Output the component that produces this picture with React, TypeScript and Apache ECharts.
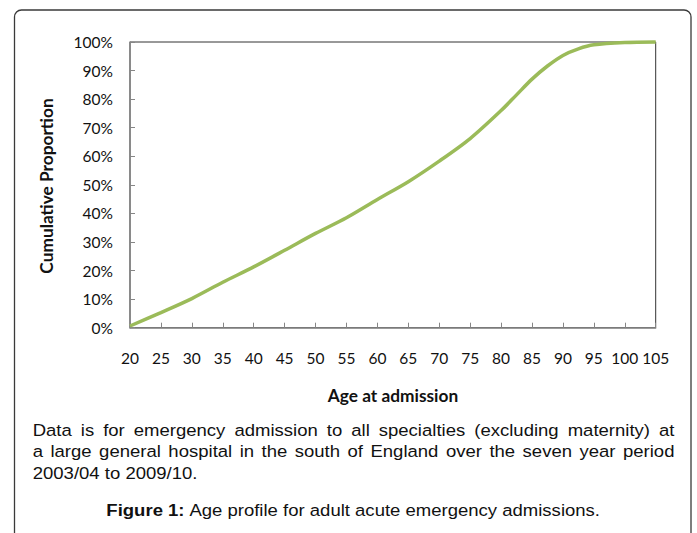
import React, { useEffect, useRef } from "react";
import * as echarts from "echarts";

const ages = [20, 25, 30, 35, 40, 45, 50, 55, 60, 65, 70, 75, 80, 82.5, 85, 87.5, 90, 92.5, 95, 100, 105];
const cumulative = [0.006, 0.053, 0.102, 0.159, 0.213, 0.271, 0.33, 0.385, 0.449, 0.511, 0.583, 0.662, 0.76, 0.815, 0.87, 0.916, 0.953, 0.976, 0.99, 0.998, 1.0];

const xAxisTitle = "Age at admission";
const yAxisTitle = "Cumulative Proportion";
const noteLines = [
  "Data is for emergency admission to all specialties (excluding maternity) at",
  "a large general hospital in the south of England over the seven year period",
  "2003/04 to 2009/10.",
];
const figureLabel = "Figure 1:";
const figureText = " Age profile for adult acute emergency admissions.";

const CAP_FONT_SIZE = 17;
const CAP_FAMILY = '"Liberation Sans", Arial, sans-serif';
const CAP_SCALE = 1.09;

function measure(text: string, font: string): number {
  const c = document.createElement("canvas");
  const ctx = c.getContext("2d")!;
  ctx.font = font;
  return ctx.measureText(text).width;
}

function buildNote(): any[] {
  const font = `${CAP_FONT_SIZE}px ${CAP_FAMILY}`;
  const left = 32.7;
  const right = 674.5;
  const lineYs = [430, 451.7, 473.3];
  const els: any[] = [];
  noteLines.forEach((line, li) => {
    const words = line.split(" ");
    const widths = words.map((w) => measure(w, font) * CAP_SCALE);
    const total = widths.reduce((a, b) => a + b, 0);
    const justify = li < noteLines.length - 1;
    const gap = justify ? (right - left - total) / (words.length - 1) : measure(" ", font) * CAP_SCALE;
    let x = left;
    words.forEach((w, i) => {
      els.push({
        type: "text",
        x,
        y: lineYs[li],
        scaleX: CAP_SCALE,
        silent: true,
        style: {
          text: w,
          fontSize: CAP_FONT_SIZE,
          fontFamily: CAP_FAMILY,
          fill: "#111",
          align: "left",
          verticalAlign: "middle",
          textAlign: "left",
          textVerticalAlign: "middle",
        },
      });
      x += widths[i] + gap;
    });
  });
  return els;
}

export default function App() {
  const ref = useRef<HTMLDivElement>(null);
  useEffect(() => {
    if (!ref.current) return;
    const chart = echarts.init(ref.current, null, { renderer: "svg" });
    const labelFont = { fontFamily: "Lato, sans-serif", fontSize: 15.5, color: "#111" };
    chart.setOption({
      animation: false,
      backgroundColor: "#fff",
      grid: {
        left: 130,
        right: 41.3,
        top: 42,
        bottom: 205.3,
        show: true,
        borderColor: "#333",
        borderWidth: 1,
        backgroundColor: "transparent",
      },
      xAxis: {
        type: "value",
        min: 20,
        max: 105,
        interval: 5,
        axisLine: { show: true, lineStyle: { color: "#868686", width: 1.5 } },
        axisTick: { show: true, inside: true, length: 5, lineStyle: { color: "#868686", width: 1 } },
        splitLine: { show: false },
        axisLabel: { ...labelFont, margin: 22, lineHeight: 16, showMaxLabel: true, showMinLabel: true },
      },
      yAxis: {
        type: "value",
        min: 0,
        max: 1,
        interval: 0.1,
        axisLine: { show: true, lineStyle: { color: "#868686", width: 1.5 } },
        axisTick: { show: true, inside: true, length: 5, lineStyle: { color: "#868686", width: 1 } },
        splitLine: { show: false },
        axisLabel: {
          ...labelFont,
          margin: 17,
          formatter: (v: number) => `${Math.round(v * 100)}%`,
        },
      },
      series: [
        {
          type: "line",
          data: ages.map((a, i) => [a, cumulative[i]]),
          showSymbol: false,
          smooth: 0.3,
          clip: false,
          lineStyle: { color: "#9BBB59", width: 3.5 },
          itemStyle: { color: "#9BBB59" },
        },
      ],
      graphic: [
        {
          type: "rect",
          silent: true,
          shape: { x: 14.5, y: 10, width: 676.5, height: 560, r: 7 },
          style: { fill: "none", stroke: "#3a3a3a", lineWidth: 1.3 },
        },
        {
          type: "text",
          x: 46,
          y: 186,
          rotation: Math.PI / 2,
          silent: true,
          style: {
            text: yAxisTitle,
            fontFamily: "Lato, sans-serif",
            fontWeight: "bold",
            fontSize: 17.3,
            fill: "#111",
            align: "center",
            verticalAlign: "middle",
            textAlign: "center",
            textVerticalAlign: "middle",
          },
        },
        {
          type: "text",
          x: 393,
          y: 395,
          silent: true,
          style: {
            text: xAxisTitle,
            fontFamily: "Lato, sans-serif",
            fontWeight: "bold",
            fontSize: 17.3,
            fill: "#111",
            align: "center",
            verticalAlign: "middle",
            textAlign: "center",
            textVerticalAlign: "middle",
          },
        },
        ...buildNote(),
        {
          type: "text",
          x: 353.5,
          y: 510,
          scaleX: CAP_SCALE,
          silent: true,
          style: {
            text: `{b|${figureLabel}}${figureText}`,
            fontSize: CAP_FONT_SIZE,
            fontFamily: CAP_FAMILY,
            fill: "#111",
            align: "center",
            verticalAlign: "middle",
            textAlign: "center",
            textVerticalAlign: "middle",
            rich: {
              b: { fontWeight: "bold", fontSize: CAP_FONT_SIZE, fontFamily: CAP_FAMILY, fill: "#111" },
            },
          },
        },
      ],
    });
    return () => chart.dispose();
  }, []);
  return (
    <div
      ref={ref}
      style={{ position: "absolute", left: 0, top: 0, width: 697, height: 533, background: "#fff" }}
    />
  );
}
